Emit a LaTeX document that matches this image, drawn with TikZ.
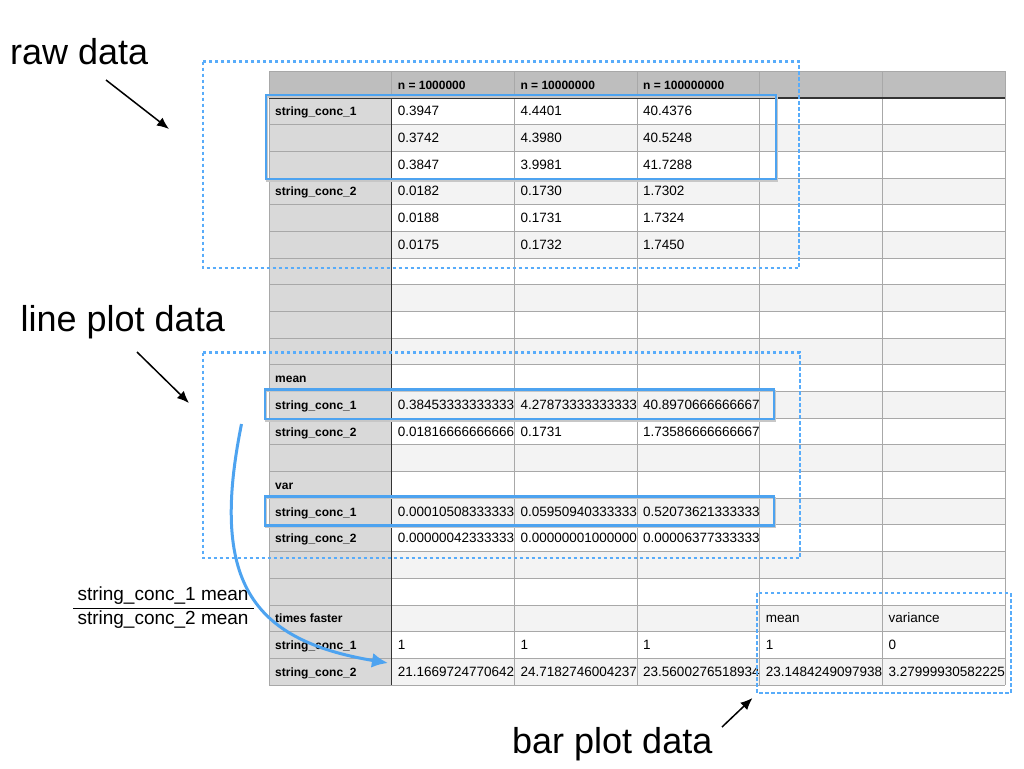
\documentclass[tikz,border=0pt]{standalone}
\usepackage{fontspec}
\setmainfont{Liberation Sans}
\usetikzlibrary{calc}
\usetikzlibrary{arrows.meta}
\usepackage{xcolor}
\definecolor{hdrrow}{RGB}{190,190,190}
\definecolor{hdrcol}{RGB}{217,217,217}
\definecolor{altrow}{RGB}{243,243,243}
\definecolor{gridgray}{RGB}{168,168,168}
\definecolor{selblue}{RGB}{77,163,240}
\definecolor{dashblue}{RGB}{88,172,250}
\newcommand{\tcell}[4]{%
 \begin{scope}
 \clip ({269+#1*122.67},{98+(#2-1)*26.68}) rectangle ++(122.67,26.68);
 \node[#3] (c-#1-#2) at ({269+#1*122.67+6},{98+(#2-0.5)*26.68+4.6}) {#4};
 \end{scope}}

\begin{document}
\begin{tikzpicture}[x=1pt,y=-1pt,
 data/.style={anchor=base west,inner sep=0,font=\fontsize{13.5}{16}\selectfont},
 lab/.style={anchor=base west,inner sep=0,font=\bfseries\fontsize{12}{14}\selectfont},
 big/.style={anchor=base west,inner sep=0,font=\fontsize{36}{40}\selectfont},
 frac/.style={anchor=base west,inner sep=0,font=\fontsize{19}{22}\selectfont},
 gridline/.style={gridgray,line width=0.8pt},
 darkline/.style={black!80,line width=1.2pt},
 dashbox/.style={dashblue,line width=2.2pt,dash pattern=on 3.4pt off 2.6pt},
 selbox/.style={selblue,line width=2.2pt},
 selshadow/.style={black!22,line width=2.4pt,shift={(1.2,1.6)}},
 pointer/.style={black,line width=1.5pt,-{Latex[length=12pt,width=10pt]}},
 ratioarrow/.style={selblue,line width=3pt,-{Latex[length=16pt,width=15pt]}}]
\useasboundingbox (0,0) rectangle (1024,768);
\fill[white] (0,0) rectangle (1024,768);
\fill[hdrrow] (269,71.32) rectangle (1005,98);
\fill[hdrcol] (269,98) rectangle (391.67,684.96);
\foreach \k in {2,4,...,22}
 \fill[altrow] (391.67,{98+(\k-1)*26.68}) rectangle (1005,{98+\k*26.68});
\foreach \k in {0,...,23}
 \draw[gridline] (269,{98+(\k-1)*26.68}) -- (1005,{98+(\k-1)*26.68});
\foreach \i in {0,...,6}
 \draw[gridline] ({269+\i*122.67},71.32) -- ({269+\i*122.67},684.96);
\draw[darkline] (269,98) -- (1005,98);
\draw[darkline] (391.67,98) -- (391.67,684.96);

\tcell{1}{0}{lab}{n = 1000000}
\tcell{2}{0}{lab}{n = 10000000}
\tcell{3}{0}{lab}{n = 100000000}
\foreach \r/\t in {1/string\_conc\_1, 4/string\_conc\_2, 11/mean, 12/string\_conc\_1, 13/string\_conc\_2,
 15/var, 16/string\_conc\_1, 17/string\_conc\_2, 20/times faster, 21/string\_conc\_1, 22/string\_conc\_2}
 {\tcell{0}{\r}{lab}{\t}}
\foreach \r/\a/\b/\c in {1/0.3947/4.4401/40.4376, 2/0.3742/4.3980/40.5248, 3/0.3847/3.9981/41.7288,
 4/0.0182/0.1730/1.7302, 5/0.0188/0.1731/1.7324, 6/0.0175/0.1732/1.7450,
 12/0.38453333333333/4.27873333333333/40.8970666666667,
 13/0.01816666666666/0.1731/1.73586666666667,
 16/0.00010508333333/0.05950940333333/0.52073621333333,
 17/0.00000042333333/0.00000001000000/0.00006377333333,
 21/1/1/1, 22/21.1669724770642/24.7182746004237/23.5600276518934}
 {\tcell{1}{\r}{data}{\a}
  \tcell{2}{\r}{data}{\b}
  \tcell{3}{\r}{data}{\c}}
\tcell{4}{20}{data}{mean}
\tcell{5}{20}{data}{variance}
\tcell{4}{21}{data}{1}
\tcell{5}{21}{data}{0}
\tcell{4}{22}{data}{23.1484249097938}
\tcell{5}{22}{data}{3.27999930582225}

\draw[dashbox] (203,61.5) rectangle (799,268);
\draw[dashbox] (203,352.5) rectangle (800,558);
\draw[dashbox] (757.3,593.3) rectangle (1010.7,693.3);
\foreach \ya/\yb/\xa/\xb in {95/179/266/776, 389.5/419/265/774, 496.5/525.5/265/774}
 {\draw[selshadow] (\xa,\ya) rectangle (\xb,\yb);
  \draw[selbox] (\xa,\ya) rectangle (\xb,\yb);}

\node[big] (rawlab) at (10,64) {raw data};
\node[big] (linelab) at (20.5,331.5) {line plot data};
\node[big] (barlab) at (512,753) {bar plot data};
\coordinate (rawfrom) at (106,80);
\coordinate (rawto) at (169,129);
\coordinate (linefrom) at (137,352);
\coordinate (lineto) at (189,403);
\coordinate (barfrom) at (722,727);
\coordinate (barto) at (752.5,698);
\draw[pointer] (rawfrom) -- (rawto);
\draw[pointer] (linefrom) -- (lineto);
\draw[pointer] (barfrom) -- (barto);

\node[frac] (fnum) at (77.3,600) {string\_conc\_1 mean};
\node[frac] (fden) at (77.3,624) {string\_conc\_2 mean};
\draw[black,line width=1pt] (73.3,608.3) -- (254,608.3);
\coordinate (meanfrom) at (241.5,424);
\coordinate (ratioto) at (388,663);
\draw[ratioarrow] (meanfrom) .. controls (210,580) and (250,640) .. (ratioto);
\end{tikzpicture}
\end{document}
